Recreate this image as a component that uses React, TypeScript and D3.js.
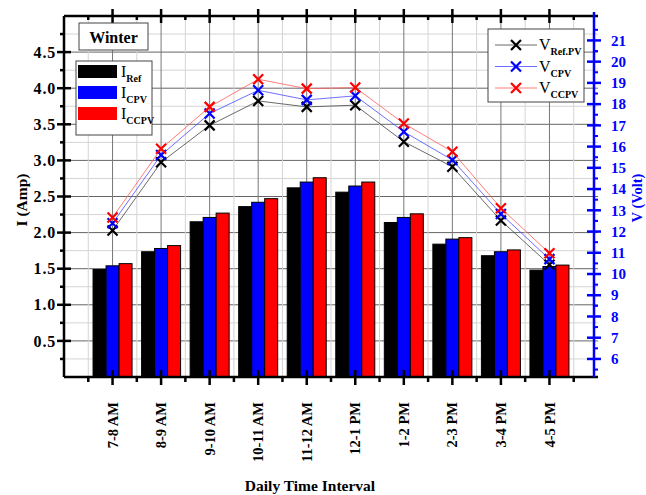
import * as d3 from "d3";

const categories = ["7-8 AM", "8-9 AM", "9-10 AM", "10-11 AM", "11-12 AM", "12-1 PM", "1-2 PM", "2-3 PM", "3-4 PM", "4-5 PM"];
const iRef = [1.49, 1.735, 2.15, 2.36, 2.62, 2.56, 2.14, 1.84, 1.68, 1.48];
const iCPV = [1.54, 1.78, 2.21, 2.42, 2.7, 2.645, 2.21, 1.91, 1.735, 1.53];
const iCCPV = [1.57, 1.82, 2.27, 2.47, 2.76, 2.7, 2.26, 1.93, 1.76, 1.55];
const vRef = [12.05, 15.26, 17.0, 18.15, 17.87, 17.95, 16.23, 15.05, 12.52, 10.44];
const vCPV = [12.39, 15.6, 17.56, 18.65, 18.2, 18.39, 16.7, 15.37, 12.83, 10.7];
const vCCPV = [12.66, 15.9, 17.87, 19.17, 18.73, 18.78, 17.09, 15.76, 13.1, 10.98];
const iTicks = [0.5, 1.0, 1.5, 2.0, 2.5, 3.0, 3.5, 4.0, 4.5];
const vTicks = [6, 7, 8, 9, 10, 11, 12, 13, 14, 15, 16, 17, 18, 19, 20, 21];

const FONT = "'Liberation Serif', 'Times New Roman', serif";
const BLUE = "#0000ff";
const RED = "#ff0000";

export default function App() {
  const left = 64, right = 598, top = 16, bottom = 377, vAxisX = 594;
  const x = d3.scaleLinear().domain([0, categories.length + 1]).range([left, right]);
  const yI = d3.scaleLinear().domain([0, 5]).range([bottom, top]);
  const yV = d3.scaleLinear().domain([5.15, 22.15]).range([bottom, top]);
  const barW = 13;

  const bars = [
    { data: iRef, color: "#000", off: -1 },
    { data: iCPV, color: BLUE, off: 0 },
    { data: iCCPV, color: RED, off: 1 },
  ];
  const lines = [
    { data: vRef, color: "#000", line: "#444" },
    { data: vCPV, color: BLUE, line: "#4a4aff" },
    { data: vCCPV, color: RED, line: "#ff5a5a" },
  ];
  const line = d3
    .line<number>()
    .x((_, i) => x(i + 1))
    .y((d) => yV(d));

  const minorI = d3.range(0.25, 5, 0.25);
  const minorV = d3.range(5.5, 22, 0.5).filter((v) => v % 1 !== 0);
  const halfX = d3.range(0.5, categories.length + 1, 1);

  const cross = (cx: number, cy: number, c: string, k: string) => (
    <path
      key={k}
      d={`M${cx - 5},${cy - 5}L${cx + 5},${cy + 5}M${cx - 5},${cy + 5}L${cx + 5},${cy - 5}`}
      stroke={c}
      strokeWidth={2.2}
      fill="none"
    />
  );

  return (
    <svg
      width={646}
      height={495}
      style={{ position: "absolute", left: 0, top: 0, background: "#fff" }}
      fontFamily={FONT}
      fontWeight="bold"
    >
      {/* grid */}
      {minorI.map((v) => (
        <line key={"gi" + v} x1={left} x2={right} y1={yI(v)} y2={yI(v)} stroke={v % 0.5 === 0 ? "#666" : "#d4d4d4"} />
      ))}
      {halfX.map((v) => (
        <line key={"gx" + v} x1={x(v)} x2={x(v)} y1={top} y2={bottom} stroke="#d4d4d4" />
      ))}
      {categories.map((_, i) => (
        <line key={"gxm" + i} x1={x(i + 1)} x2={x(i + 1)} y1={top} y2={bottom} stroke="#777" />
      ))}

      {/* bars */}
      {bars.map((s, si) =>
        s.data.map((v, i) => (
          <rect
            key={`b${si}-${i}`}
            x={x(i + 1) + s.off * barW - barW / 2}
            y={yI(v)}
            width={barW}
            height={bottom - yI(v)}
            fill={s.color}
            stroke="#000"
            strokeWidth={1}
          />
        ))
      )}

      {/* voltage lines */}
      {lines.map((s, si) => (
        <path key={"l" + si} d={line(s.data) || ""} fill="none" stroke={s.line} strokeWidth={0.8} />
      ))}
      {lines.map((s, si) => s.data.map((v, i) => cross(x(i + 1), yV(v), s.color, `m${si}-${i}`)))}

      {/* frame */}
      <line x1={left} x2={right} y1={top} y2={top} stroke="#000" strokeWidth={2.5} />
      <line x1={left} x2={right} y1={bottom} y2={bottom} stroke="#000" strokeWidth={2.5} />
      <line x1={left} x2={left} y1={top} y2={bottom} stroke="#000" strokeWidth={2.5} />

      {/* left axis ticks */}
      {minorI.map((v) => (
        <line key={"ti" + v} x1={v % 0.5 === 0 ? left - 7 : left - 4} x2={v % 0.5 === 0 ? left + 7 : left} y1={yI(v)} y2={yI(v)} stroke="#000" strokeWidth={2.5} />
      ))}
      {iTicks.map((v) => (
        <text key={"li" + v} x={left - 8} y={yI(v)} dy="0.35em" textAnchor="end" fontSize={16} letterSpacing={0.8}>
          {v.toFixed(1)}
        </text>
      ))}

      {/* bottom and top ticks */}
      {categories.map((_, i) => (
        <g key={"tx" + i}>
          <line x1={x(i + 1)} x2={x(i + 1)} y1={bottom - 7} y2={bottom + 8} stroke="#000" strokeWidth={2.5} />
          <line x1={x(i + 1)} x2={x(i + 1)} y1={top - 7} y2={top + 7} stroke="#000" strokeWidth={2.5} />
        </g>
      ))}
      {halfX.map((v) => (
        <g key={"txm" + v}>
          <line x1={x(v)} x2={x(v)} y1={bottom} y2={bottom + 5} stroke="#000" strokeWidth={2.5} />
          <line x1={x(v)} x2={x(v)} y1={top} y2={top + 4} stroke="#000" strokeWidth={2.5} />
        </g>
      ))}
      {categories.map((c, i) => (
        <text
          key={"cx" + c}
          transform={`translate(${x(i + 1)},402) rotate(-90)`}
          dy="0.35em"
          textAnchor="end"
          fontSize={14.5}
        >
          {c}
        </text>
      ))}

      {/* right voltage axis */}
      <line x1={vAxisX} x2={vAxisX} y1={top - 4} y2={bottom} stroke={BLUE} strokeWidth={2.5} />
      {vTicks.map((v) => (
        <line key={"tv" + v} x1={vAxisX - 7} x2={vAxisX + 7} y1={yV(v)} y2={yV(v)} stroke={BLUE} strokeWidth={2.5} />
      ))}
      {minorV.map((v) => (
        <line key={"tvm" + v} x1={vAxisX} x2={vAxisX + 4} y1={yV(v)} y2={yV(v)} stroke={BLUE} strokeWidth={2} />
      ))}
      {vTicks.map((v) => (
        <text key={"lv" + v} x={vAxisX + 17} y={yV(v)} dy="0.35em" fontSize={15} fill={BLUE}>
          {v}
        </text>
      ))}

      {/* axis titles */}
      <text transform="translate(22,200) rotate(-90)" textAnchor="middle" dy="0.35em" fontSize={15.5}>
        I (Amp)
      </text>
      <text transform="translate(637,198) rotate(-90)" textAnchor="middle" dy="0.35em" fontSize={14.5} fill={BLUE}>
        V (Volt)
      </text>
      <text x={310} y={491} textAnchor="middle" fontSize={15.5}>
        Daily Time Interval
      </text>

      {/* season label */}
      <rect x={79} y={23} width={69} height={27} fill="#fff" stroke="#444" strokeWidth={1} />
      <text x={113.5} y={37} dy="0.35em" textAnchor="middle" fontSize={16}>
        Winter
      </text>

      {/* current legend */}
      <rect x={76} y={61} width={76} height={74} fill="#fff" stroke="#444" strokeWidth={1} />
      {bars.map((s, si) => (
        <g key={"lg" + si} transform={`translate(78,${65 + si * 21})`}>
          <rect x={0} y={0} width={39} height={13} fill={s.color} />
          <text x={43} y={12} fontSize={16} fontWeight="normal">
            I
            <tspan fontSize={10} dy={5} fontWeight="bold">
              {["Ref", "CPV", "CCPV"][si]}
            </tspan>
          </text>
        </g>
      ))}

      {/* voltage legend */}
      <rect x={488} y={29} width={96} height={73} fill="#fff" stroke="#444" strokeWidth={1} />
      {lines.map((s, si) => {
        const cy = 45 + si * 21.5;
        return (
          <g key={"lv" + si}>
            <line x1={495} x2={537} y1={cy} y2={cy} stroke={s.line} strokeWidth={0.8} />
            {cross(516, cy, s.color, "lc" + si)}
            <text x={539} y={cy + 5} fontSize={16} fontWeight="normal">
              V
              <tspan fontSize={10} dy={5} fontWeight="bold">
                {["Ref.PV", "CPV", "CCPV"][si]}
              </tspan>
            </text>
          </g>
        );
      })}
    </svg>
  );
}
